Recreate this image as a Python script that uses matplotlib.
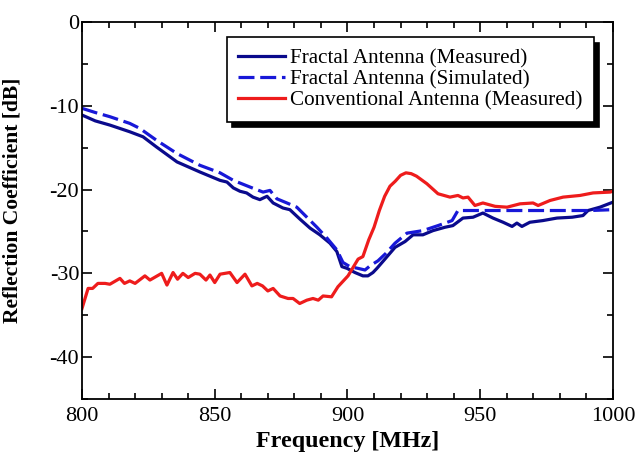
import matplotlib.pyplot as plt
from matplotlib.ticker import MultipleLocator

# Fractal antenna, measured (solid navy)
fm_freq = [800, 805, 810.5, 818, 823, 828, 835.8, 844.4, 852, 854.6, 857, 859.5, 862, 864.4,
           867, 869.7, 872, 875.7, 878.3, 882, 885.9, 889.6, 893.4, 896, 897.9, 899.8, 902.8,
           905.8, 907.7, 909.6, 911.1, 914.1, 917.9, 921.7, 924.7, 928.4, 932.2, 936.7, 939.7,
           943.5, 947.3, 951, 954.8, 958.6, 962, 963.8, 965.7, 968.7, 973.6, 978.9, 984.6,
           988.7, 990.6, 995.1, 1000]
fm_s11 = [-11.1, -11.8, -12.3, -13.1, -13.7, -14.9, -16.7, -17.9, -18.9, -19.1, -19.8, -20.2,
          -20.4, -20.9, -21.2, -20.8, -21.6, -22.2, -22.4, -23.5, -24.6, -25.4, -26.4, -27.4,
          -29.2, -29.4, -29.9, -30.3, -30.3, -29.9, -29.4, -28.3, -26.9, -26.2, -25.4, -25.4,
          -24.9, -24.5, -24.3, -23.4, -23.3, -22.8, -23.4, -23.9, -24.4, -24.0, -24.4, -23.9,
          -23.7, -23.4, -23.3, -23.1, -22.5, -22.1, -21.5]

# Fractal antenna, simulated (dashed blue)
fs_freq = [800, 805, 810.5, 818, 821.8, 828, 835.8, 844.4, 852, 857, 863.3, 868.2, 870.8,
           873.4, 877.2, 880.9, 884.7, 888.5, 892.3, 896, 898.3, 900.9, 903.9, 906.6, 908.5,
           911.5, 914.5, 917.9, 922.4, 928.4, 934.1, 939.4, 941.6, 950, 960, 970, 980, 991.3,
           1000]
fs_s11 = [-10.3, -10.8, -11.3, -12.1, -12.7, -14.1, -15.7, -17.1, -18.0, -18.9, -19.7, -20.3,
          -20.1, -21.1, -21.6, -22.1, -23.3, -24.5, -25.8, -27.2, -28.7, -29.2, -29.4, -29.6,
          -29.1, -28.5, -27.6, -26.4, -25.2, -24.9, -24.3, -23.7, -22.5, -22.5, -22.5, -22.5,
          -22.5, -22.5, -22.4]

# Conventional antenna, measured (red)
cv_freq = [800, 802.3, 804, 806, 808.7, 810.5, 814.3, 816, 818, 820, 823.7, 825.6, 830, 832,
           834.3, 836, 838, 840, 842.6, 844.4, 846.7, 848.2, 850, 852, 855.7, 858.4, 861.4,
           864, 866, 868, 870, 872, 874.6, 877.6, 879.5, 882, 884.7, 887, 889, 890.8, 894,
           896.4, 900.2, 904, 905.8, 908, 910, 912, 914, 916, 918, 920, 922, 924, 926, 929.9,
           934.1, 938.6, 941.6, 943.5, 945.4, 948, 951, 955.6, 960.1, 965, 969.9, 971.8,
           976.3, 981.2, 987.6, 992.5, 998.9, 1000]
cv_s11 = [-34.2, -31.8, -31.8, -31.2, -31.2, -31.3, -30.6, -31.2, -30.9, -31.2, -30.3, -30.8,
          -30.0, -31.4, -29.9, -30.7, -30.0, -30.5, -30.0, -30.1, -30.8, -30.2, -31.1, -30.1,
          -29.9, -31.1, -30.1, -31.5, -31.2, -31.5, -32.1, -31.8, -32.7, -33.0, -33.0, -33.6,
          -33.2, -33.0, -33.2, -32.7, -32.8, -31.6, -30.3, -28.3, -28.0, -26.0, -24.5, -22.5,
          -20.8, -19.6, -19.0, -18.3, -18.0, -18.1, -18.4, -19.3, -20.5, -20.9, -20.7, -21.0,
          -20.9, -21.9, -21.6, -22.0, -22.1, -21.7, -21.6, -21.9, -21.3, -20.9, -20.7, -20.4,
          -20.3, -20.2]

plt.rcParams['font.family'] = ['Liberation Serif', 'DejaVu Serif']
plt.rcParams['axes.unicode_minus'] = False

fig = plt.figure(figsize=(6.37, 4.59), dpi=100)
ax = fig.add_axes([0.1287, 0.1307, 0.8336, 0.8213])

ax.plot(fm_freq, fm_s11, color='#0a0a8c', lw=2.3, label='Fractal Antenna (Measured)')
ax.plot(fs_freq, fs_s11, color='#1818d8', lw=2.3, ls=(0, (5, 1.8)),
        label='Fractal Antenna (Simulated)')
ax.plot(cv_freq, cv_s11, color='#ee1c1c', lw=2.3, label='Conventional Antenna (Measured)')

ax.set_xlim(800, 1000)
ax.set_ylim(-45, 0)
ax.xaxis.set_major_locator(MultipleLocator(50))
ax.xaxis.set_minor_locator(MultipleLocator(10))
ax.yaxis.set_major_locator(MultipleLocator(10))
ax.yaxis.set_minor_locator(MultipleLocator(5))
ax.tick_params(which='both', direction='in', top=True, right=True, width=1.2, labelsize=16)
ax.tick_params(which='major', length=7, pad=6)
ax.tick_params(axis='y', which='major', pad=2)
ax.tick_params(which='minor', length=4.5)
for s in ax.spines.values():
    s.set_linewidth(1.3)

ax.set_xlabel('Frequency [MHz]', fontsize=17.3, fontweight='bold', labelpad=3)
ax.set_ylabel('Reflection Coefficient [dB]', fontsize=15.6, fontweight='bold')
ax.yaxis.set_label_coords(-0.112, 0.528)

leg = ax.legend(loc='upper right', bbox_to_anchor=(0.964, 0.960), borderaxespad=0,
                fontsize=15.2, fancybox=False, framealpha=1, edgecolor='black',
                shadow={'color': 'black', 'alpha': 1, 'ox': 4, 'oy': -4},
                handlelength=2.2, handletextpad=0.25, labelspacing=0.05, borderpad=0.55)
leg.get_frame().set_linewidth(1.2)

fig.savefig('out.png', dpi=100)
